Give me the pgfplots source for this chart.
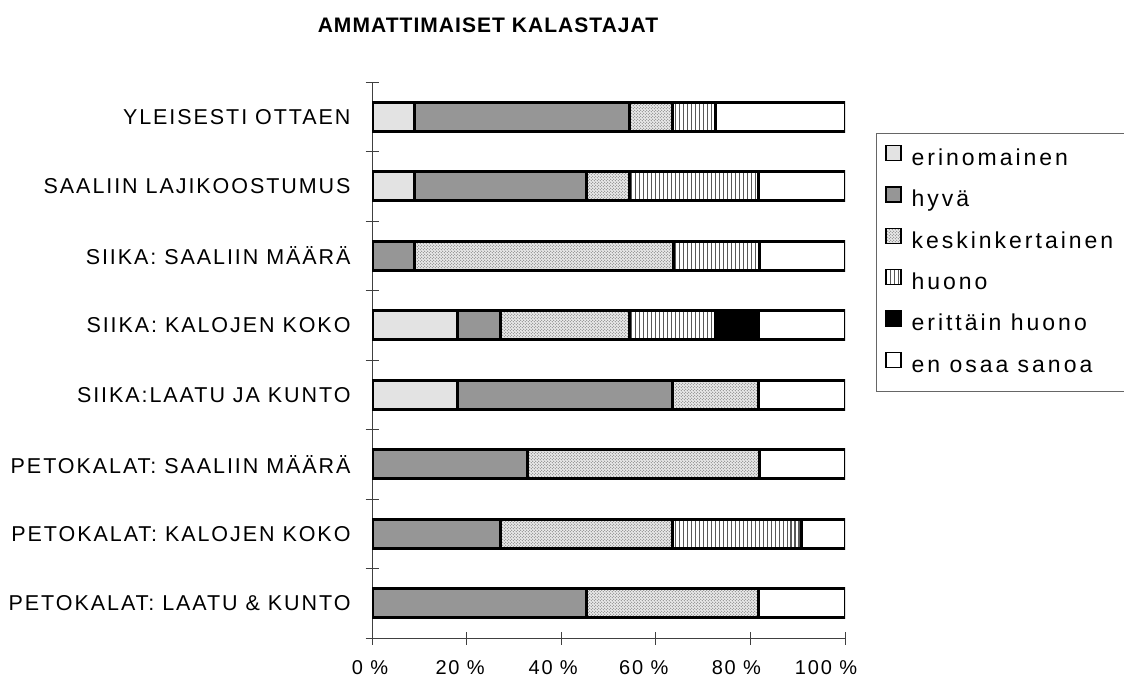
\documentclass[border=0pt]{standalone}
\usepackage{fontspec}
\setmainfont{Liberation Sans}
\newfontfamily\lsfont[LetterSpace=9]{Liberation Sans}
\newfontfamily\lswide[LetterSpace=13]{Liberation Sans}
\usepackage{pgfplots}
\pgfplotsset{compat=1.18}
\usetikzlibrary{patterns}
\definecolor{erin}{HTML}{E3E3E3}
\definecolor{hyva}{HTML}{969696}

\pgfdeclarepatternformonly{myvlines}{\pgfqpoint{0pt}{-1pt}}{\pgfqpoint{4pt}{5pt}}{\pgfqpoint{4pt}{4pt}}{%
  \pgfsetlinewidth{1.1pt}%
  \pgfpathmoveto{\pgfqpoint{2pt}{-1pt}}\pgfpathlineto{\pgfqpoint{2pt}{5pt}}\pgfusepath{stroke}}
\pgfdeclarepatternformonly{mydots}{\pgfqpoint{0pt}{0pt}}{\pgfqpoint{3pt}{3pt}}{\pgfqpoint{3pt}{3pt}}{%
  \pgfpathcircle{\pgfqpoint{0.75pt}{0.75pt}}{0.55pt}%
  \pgfpathcircle{\pgfqpoint{2.25pt}{2.25pt}}{0.55pt}%
  \pgfusepath{fill}}

% categories top to bottom (y = 1..8, y dir=reverse)
\pgfplotstableread{
y erin hyva kesk huono ehuono eos
1 9.09 45.45 9.09 9.09 0 27.28
2 9.09 36.36 9.09 27.27 0 18.19
3 0 9.09 54.55 18.18 0 18.18
4 18.18 9.09 27.27 18.18 9.09 18.19
5 18.18 45.45 18.18 0 0 18.19
6 0 32.8 49.2 0 0 18.0
7 0 27.27 36.36 27.27 0 9.10
8 0 45.45 36.36 0 0 18.19
}\datatable

\begin{document}
\begin{tikzpicture}
\path[use as bounding box] (0,0) rectangle (1124bp,680bp);
\node[font={\fontsize{21bp}{25bp}\selectfont\bfseries\addfontfeature{LetterSpace=5}}] at (488bp,655bp) {AMMATTIMAISET KALASTAJAT};
\begin{axis}[
  at={(372bp,42bp)}, anchor=south west,
  scale only axis, width=473bp, height=556bp,
  xbar stacked, bar width=29bp,
  xmin=0, xmax=100, ymin=0.5, ymax=8.5, y dir=reverse,
  axis lines*=left,
  axis line style={black!75, line width=1bp},
  tick align=center,
  major tick length=13bp,
  every tick/.style={black!75, line width=1bp},
  xtick={0,20,40,60,80,100},
  xticklabels={0 \%\hspace*{4bp},20 \%\hspace*{13bp},40 \%\hspace*{16bp},60 \%\hspace*{24bp},80 \%\hspace*{28bp},100 \%\hspace*{38bp}},
  xticklabel style={font={\fontsize{20bp}{24bp}\selectfont\lsfont}, yshift=-13bp},
  ytick={0.5,1.5,...,8.5},
  yticklabels={},
  yticklabel style={font={\fontsize{21.5bp}{25bp}\selectfont\lsfont}, xshift=-18bp},
  extra y ticks={1,...,8},
  extra y tick labels={YLEISESTI OTTAEN,SAALIIN LAJIKOOSTUMUS,SIIKA: SAALIIN MÄÄRÄ,SIIKA: KALOJEN KOKO,SIIKA:LAATU JA KUNTO,PETOKALAT: SAALIIN MÄÄRÄ,PETOKALAT: KALOJEN KOKO,PETOKALAT: LAATU \& KUNTO},
  extra y tick style={major tick length=0pt, draw=none},
  legend style={at={(1.0655,0.908)}, anchor=north west, draw=black!60, line width=0.8bp,
    font={\fontsize{23bp}{27bp}\selectfont\lswide}, inner xsep=9bp, inner ysep=5bp,
    row sep=0bp, legend cell align=left,
    nodes={inner ysep=0bp, text height=27bp, text depth=14.3bp},
    /tikz/every odd column/.style={column sep=8bp}},
  legend image code/.code={\draw[#1, line width=1.2bp] (0bp,-1.5bp) rectangle (15bp,13.5bp);},
  bs/.style={draw=black, line width=3bp},
]
\addplot[bs, fill=erin] table[x=erin,y=y]{\datatable};
\addplot[bs, fill=hyva] table[x=hyva,y=y]{\datatable};
\addplot[bs, fill=black!8, postaction={pattern=mydots, pattern color=black!50}] table[x=kesk,y=y]{\datatable};
\addplot[bs, fill=white, postaction={pattern=myvlines, pattern color=black!65}] table[x=huono,y=y]{\datatable};
\addplot[bs, fill=black] table[x=ehuono,y=y]{\datatable};
\addplot[bs, fill=white] table[x=eos,y=y]{\datatable};
\legend{erinomainen,hyvä,keskinkertainen,huono,erittäin huono,en osaa sanoa}
\end{axis}
\end{tikzpicture}
\end{document}
